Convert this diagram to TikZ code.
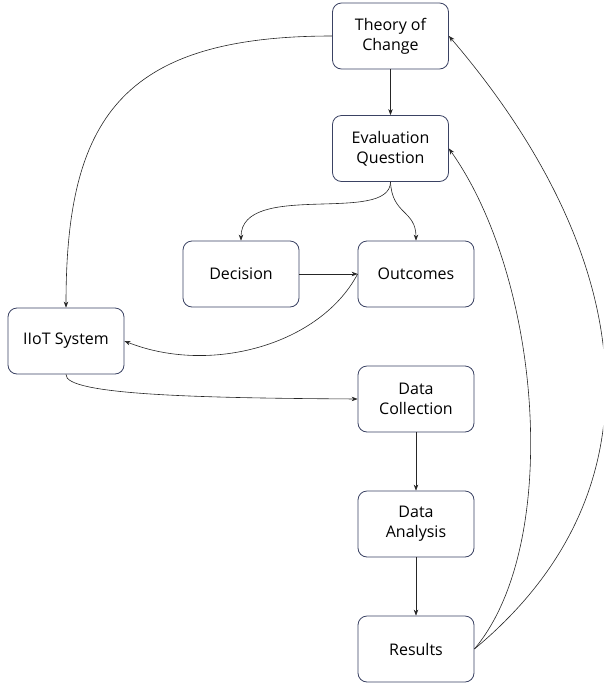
\documentclass[tikz,border=0pt]{standalone}
\usepackage{fontspec}
\setmainfont{Open Sans}
\usetikzlibrary{arrows.meta}
\definecolor{boxline}{HTML}{3A4263}
\begin{document}
\begin{tikzpicture}[x=1pt,y=-1pt,
  box/.style={draw=boxline,line width=0.8pt,rounded corners=9pt,minimum width=116pt,minimum height=66pt,align=center,font=\fontsize{16}{20}\selectfont,inner sep=2pt},
  conn/.style={draw=black!85,line width=0.6pt,-{Stealth[length=6pt,width=4.5pt]}}]
\useasboundingbox (0,0) rectangle (603,686);
\begin{scope}
\clip (0,0) rectangle (603,686);
\node[box] (toc) at (390.5,36) {Theory of\\Change};
\node[box] (eq) at (390.5,148.5) {Evaluation\\Question};
\node[box] (dec) at (241,274) {Decision};
\node[box] (out) at (416,274) {Outcomes};
\node[box] (iiot) at (66,341) {IIoT System};
\node[box] (dc) at (416,399) {Data\\Collection};
\node[box] (da) at (416,524) {Data\\Analysis};
\node[box] (res) at (416,649) {Results};
\draw[conn] (toc.south) -- (eq.north);
\draw[conn] (toc.west) .. controls (120,36) and (66,120) .. (iiot.north);
\draw[conn] (eq.south) .. controls (390,225) and (241,180) .. (dec.north);
\draw[conn] (eq.south) .. controls (392,215) and (416,210) .. (out.north);
\draw[conn] (dec.east) -- (out.west);
\draw[conn] (out.west) .. controls (320,345) and (210,375) .. (iiot.east);
\draw[conn] (iiot.south) .. controls (64,395) and (200,398) .. (dc.west);
\draw[conn] (dc.south) -- (da.north);
\draw[conn] (da.south) -- (res.north);
\draw[conn] (res.east) .. controls (562,545) and (542,280) .. (eq.east);
\draw[conn] (res.east) .. controls (672,485) and (632,250) .. (toc.east);
\end{scope}
\end{tikzpicture}
\end{document}
